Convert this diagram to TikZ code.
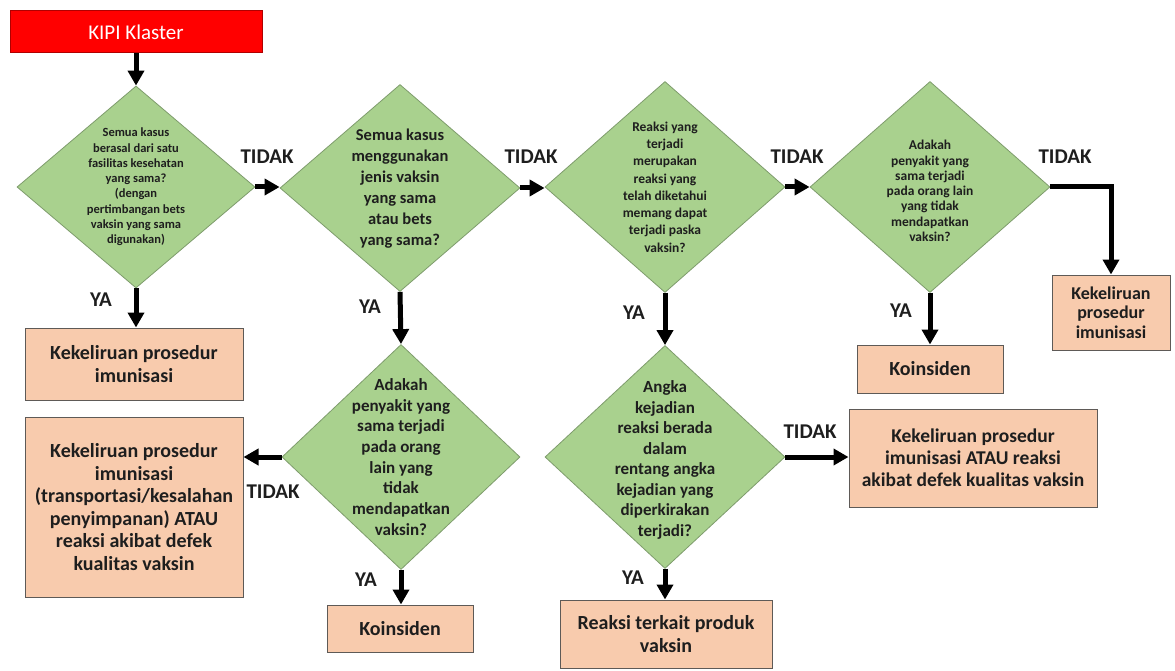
\documentclass[tikz,border=0pt]{standalone}
\usepackage{fontspec}
\setmainfont{Carlito}
\usetikzlibrary{shapes.geometric,arrows.meta}

\definecolor{qgreen}{HTML}{A9D18E}
\definecolor{qgreenline}{HTML}{7E9C6C}
\definecolor{resfill}{HTML}{F8CBAD}
\definecolor{resline}{HTML}{5E5A57}
\definecolor{startred}{HTML}{FF0000}
\definecolor{startline}{HTML}{B00000}
\definecolor{ink}{HTML}{1E1E1E}

\newcommand{\fsz}[2]{\fontsize{#1}{#2}\selectfont}

\tikzset{
  question/.style={diamond, draw=qgreenline, fill=qgreen, line width=0.8pt,
    inner sep=0pt, aspect=1},
  qtext/.style={align=center, text=ink, inner sep=0pt},
  outcome/.style={draw=resline, fill=resfill, line width=1pt, align=center,
    text=ink, inner sep=0pt},
  flow/.style={line width=5pt, line join=miter,
    -{Triangle[width=16pt,length=15pt]}},
  branch/.style={font=\bfseries\fsz{21}{24}, text=ink, inner sep=0pt},
}

\begin{document}
\begin{tikzpicture}[x=1pt,y=-1pt]
\useasboundingbox[fill=white] (0,0) rectangle (1175,671);

% start
\node[draw=startline, fill=startred, line width=1pt, minimum width=252pt,
  minimum height=42pt, inner sep=0pt, text=white, font=\fsz{21}{24}]
  (start) at (136,32) {KIPI Klaster};

% decision diamonds
\node[question, minimum width=238pt, minimum height=202pt] (d1) at (136,187) {};
\node[question, minimum width=240pt, minimum height=207pt] (d2) at (400,188) {};
\node[question, minimum width=240pt, minimum height=211pt] (d3) at (665,187) {};
\node[question, minimum width=240pt, minimum height=211pt] (d4) at (930,187) {};
\node[question, minimum width=238pt, minimum height=225pt] (d5) at (401,457) {};
\node[question, minimum width=240pt, minimum height=223pt] (d6) at (665,457) {};

\node[qtext, font=\bfseries\fsz{12.5}{15.3}] (d1t) at (136,187)
  {Semua kasus\\berasal dari satu\\fasilitas kesehatan\\yang sama?\\(dengan\\pertimbangan bets\\vaksin yang sama\\digunakan)};
\node[qtext, font=\bfseries\fsz{16.5}{21}] (d2t) at (400,189)
  {Semua kasus\\menggunakan\\jenis vaksin\\yang sama\\atau bets\\yang sama?};
\node[qtext, font=\bfseries\fsz{13.5}{17.3}] (d3t) at (665,187)
  {Reaksi yang\\terjadi\\merupakan\\reaksi yang\\telah diketahui\\memang dapat\\terjadi paska\\vaksin?};
\node[qtext, font=\bfseries\fsz{13.5}{15.3}] (d4t) at (930,191)
  {Adakah\\penyakit yang\\sama terjadi\\pada orang lain\\yang tidak\\mendapatkan\\vaksin?};
\node[qtext, font=\bfseries\fsz{17}{20.7}] (d5t) at (401,457)
  {Adakah\\penyakit yang\\sama terjadi\\pada orang\\lain yang\\tidak\\mendapatkan\\vaksin?};
\node[qtext, font=\bfseries\fsz{17}{20.5}] (d6t) at (665,460)
  {Angka\\kejadian\\reaksi berada\\dalam\\rentang angka\\kejadian yang\\diperkirakan\\terjadi?};

% outcomes
\node[outcome, minimum width=218pt, minimum height=72pt, font=\bfseries\fsz{20}{23}]
  (o1) at (134,364) {Kekeliruan prosedur\\imunisasi};
\node[outcome, minimum width=218pt, minimum height=180pt, font=\bfseries\fsz{20}{22.5}]
  (o2) at (134,507) {Kekeliruan prosedur\\imunisasi\\(transportasi/kesalahan\\penyimpanan) ATAU\\reaksi akibat defek\\kualitas vaksin};
\node[outcome, minimum width=146pt, minimum height=48pt, font=\bfseries\fsz{20}{23}]
  (o3) at (930,369) {Koinsiden};
\node[outcome, minimum width=118pt, minimum height=75pt, font=\bfseries\fsz{18}{19.5}]
  (o4) at (1111,312.5) {Kekeliruan\\prosedur\\imunisasi};
\node[outcome, minimum width=146pt, minimum height=47pt, font=\bfseries\fsz{20}{23}]
  (o5) at (400,628.5) {Koinsiden};
\node[outcome, minimum width=212pt, minimum height=68pt, font=\bfseries\fsz{20}{23}]
  (o6) at (666,634) {Reaksi terkait produk\\vaksin};
\node[outcome, minimum width=248pt, minimum height=98pt, font=\bfseries\fsz{19.5}{22}]
  (o7) at (973,458) {Kekeliruan prosedur\\imunisasi ATAU reaksi\\akibat defek kualitas vaksin};

% connectors
\draw[flow] (start.south) -- (d1.north);
\draw[flow] (d1.east) -- (d1.east -| d2.west);
\draw[flow] (d2.east) -- (d2.east -| d3.west);
\draw[flow] (d3.east) -- (d4.west);
\draw[flow] (d4.east) -| (o4.north);
\draw[flow] (d1.south) -- (d1.south |- o1.north);
\draw[flow] (d2.south) -- (d5.north);
\draw[flow] (d3.south) -- (d6.north);
\draw[flow] (d4.south) -- (o3.north);
\draw[flow] (d5.west) -- (d5.west -| o2.east);
\draw[flow] (d5.south) -- (d5.south |- o5.north);
\draw[flow] (d6.south) -- (d6.south |- o6.north);
\draw[flow] (d6.east) -- (d6.east -| o7.west);

% branch labels
\node[branch] (t1) at (267,157) {TIDAK};
\node[branch] (t2) at (531,157) {TIDAK};
\node[branch] (t3) at (797,157) {TIDAK};
\node[branch] (t4) at (1065,157) {TIDAK};
\node[branch] (t5) at (273,492) {TIDAK};
\node[branch] (t6) at (810,432) {TIDAK};
\node[branch] (y1) at (101,300) {YA};
\node[branch] (y2) at (370,307) {YA};
\node[branch] (y3) at (634,313) {YA};
\node[branch] (y4) at (901,311) {YA};
\node[branch] (y5) at (366,580) {YA};
\node[branch] (y6) at (633,578) {YA};
\end{tikzpicture}
\end{document}
